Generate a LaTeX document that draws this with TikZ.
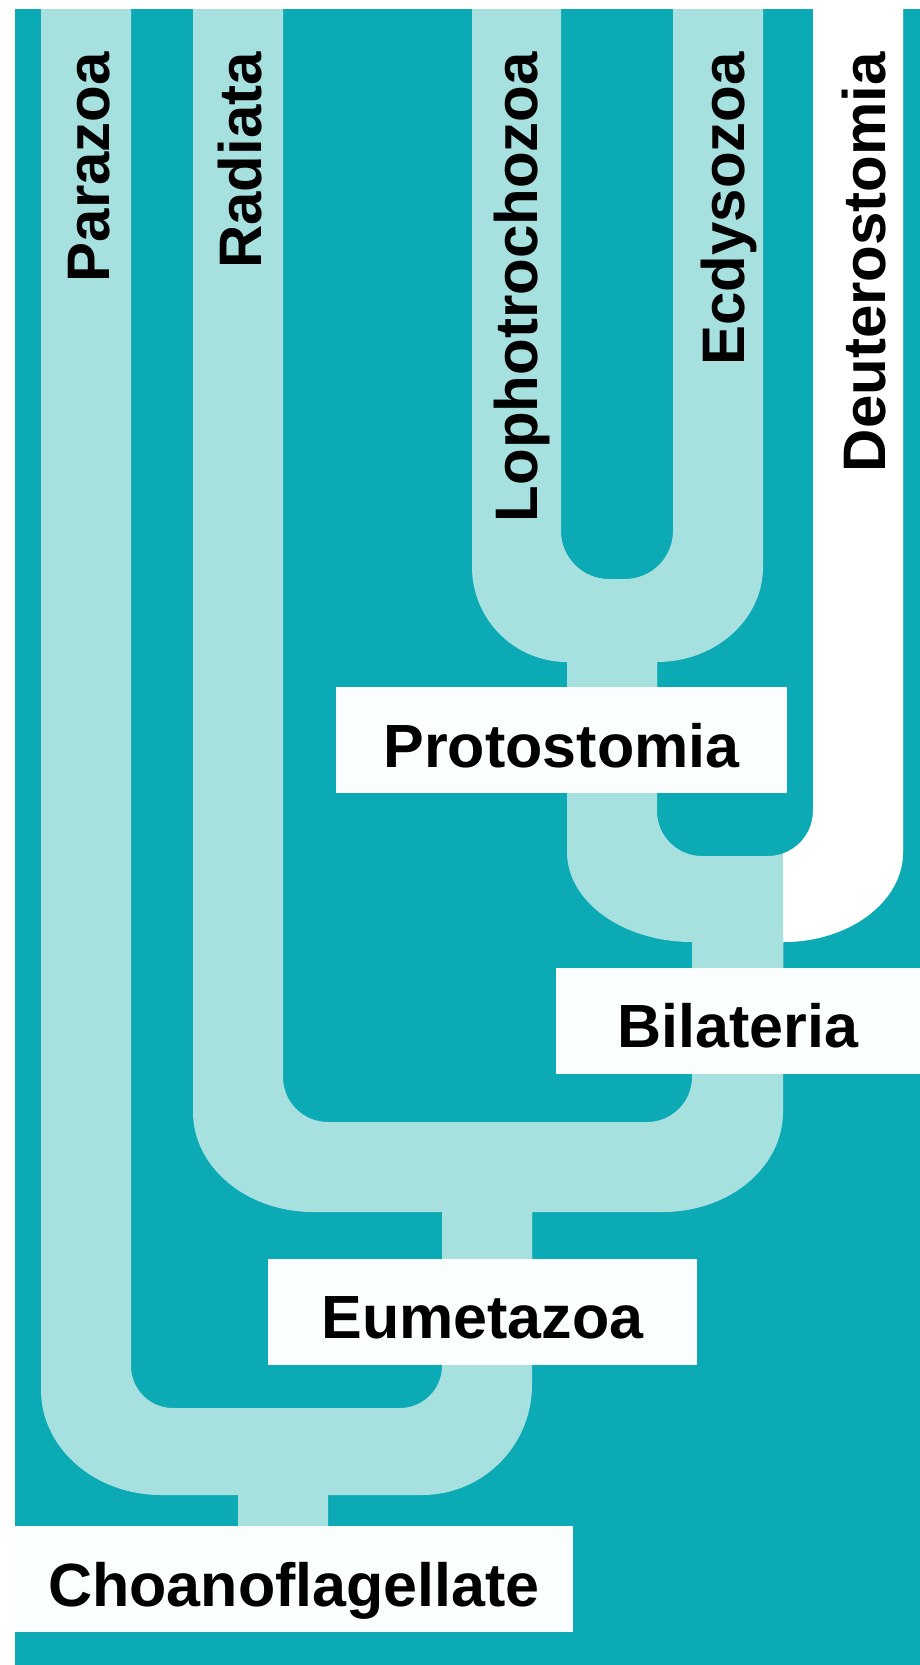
\documentclass[tikz,border=0pt]{standalone}
\usepackage{fontspec}
\setmainfont{Liberation Sans}
\definecolor{tealbg}{RGB}{11,170,181}
\definecolor{litecyan}{RGB}{166,224,223}
\definecolor{boxwhite}{RGB}{250,254,254}
\begin{document}
\begin{tikzpicture}[x=1pt,y=-1pt,
  cladetext/.style={font=\fontsize{60}{70}\selectfont\bfseries, text=black, inner sep=0pt, rotate=90, anchor=base east},
  labelbox/.style={fill=boxwhite, font=\fontsize{61}{70}\selectfont\bfseries, text=black, inner sep=0pt,
     text height=60pt, text depth=6pt, minimum height=106pt, rectangle},
]
\useasboundingbox (0,0) rectangle (920,1665);
\fill[white] (0,0) rectangle (920,1665);
\fill[tealbg] (15,9) rectangle (920,1665);
\def\forktwo{(567,640) -- (567,852) .. controls (567,901.7) and (623,942) .. (692,942)
   -- (692,980) -- (783,980) -- (783,942) .. controls (849.3,942) and (903,901.7) .. (903,852)
   -- (903,0) -- (813,0) -- (813,811) .. controls (813,835.9) and (792.9,856) .. (768,856)
   -- (702,856) .. controls (677.1,856) and (657,835.9) .. (657,811) -- (657,640) -- cycle}
\begin{scope}
\clip (15,9) rectangle (920,1665);
% fork 1: Lophotrochozoa / Ecdysozoa
\fill[litecyan] (472,0) -- (472,567) .. controls (472,619.5) and (514.5,662) .. (567,662)
   -- (567,700) -- (657,700) -- (657,662) .. controls (715.5,662) and (763,619.5) .. (763,567)
   -- (763,0) -- (673,0) -- (673,531) .. controls (673,557.5) and (651.5,579) .. (625,579)
   -- (609,579) .. controls (582.5,579) and (561,557.5) .. (561,531) -- (561,0) -- cycle;
% fork 2: Protostomia / Deuterostomia
\fill[litecyan] \forktwo;
\begin{scope}
\clip (783,0) rectangle (920,1665);
\fill[white] \forktwo;
\end{scope}
% fork 3: Radiata / Bilateria
\fill[litecyan] (193,0) -- (193,1112) .. controls (193,1167.2) and (246.7,1212) .. (313,1212)
   -- (442,1212) -- (442,1260) -- (532,1260) -- (532,1212) -- (663,1212)
   .. controls (729.3,1212) and (783,1167.2) .. (783,1112)
   -- (783,930) -- (692,930) -- (692,1077) .. controls (692,1101.9) and (671.9,1122) .. (647,1122)
   -- (328,1122) .. controls (303.1,1122) and (283,1101.9) .. (283,1077) -- (283,0) -- cycle;
% fork 4: Parazoa / Eumetazoa
\fill[litecyan] (41,0) -- (41,1390) .. controls (41,1448) and (94.7,1495) .. (161,1495)
   -- (238,1495) -- (238,1540) -- (328,1540) -- (328,1495) -- (422,1495)
   .. controls (482.8,1495) and (532,1445.8) .. (532,1385)
   -- (532,1200) -- (442,1200) -- (442,1366) .. controls (442,1389.2) and (423.2,1408) .. (400,1408)
   -- (173,1408) .. controls (149.8,1408) and (131,1389.2) .. (131,1366) -- (131,0) -- cycle;
\end{scope}
% clade names
\node[cladetext] (parazoa) at (109,52) {Parazoa};
\node[cladetext] (radiata) at (261,52) {Radiata};
\node[cladetext] (lopho) at (537,52) {Lophotrochozoa};
\node[cladetext] (ecdy) at (744,52) {Ecdysozoa};
\node[cladetext] (deutero) at (885,52) {Deuterostomia};
% node labels
\node[labelbox, minimum width=451pt] (proto) at (561.5,740) {Protostomia};
\node[labelbox, minimum width=364pt] (bilat) at (738,1020.5) {Bilateria};
\node[labelbox, minimum width=429pt] (eumet) at (482.5,1311.5) {Eumetazoa};
\node[labelbox, minimum width=558pt] (choano) at (294,1579) {Choanoflagellate};
\end{tikzpicture}
\end{document}
